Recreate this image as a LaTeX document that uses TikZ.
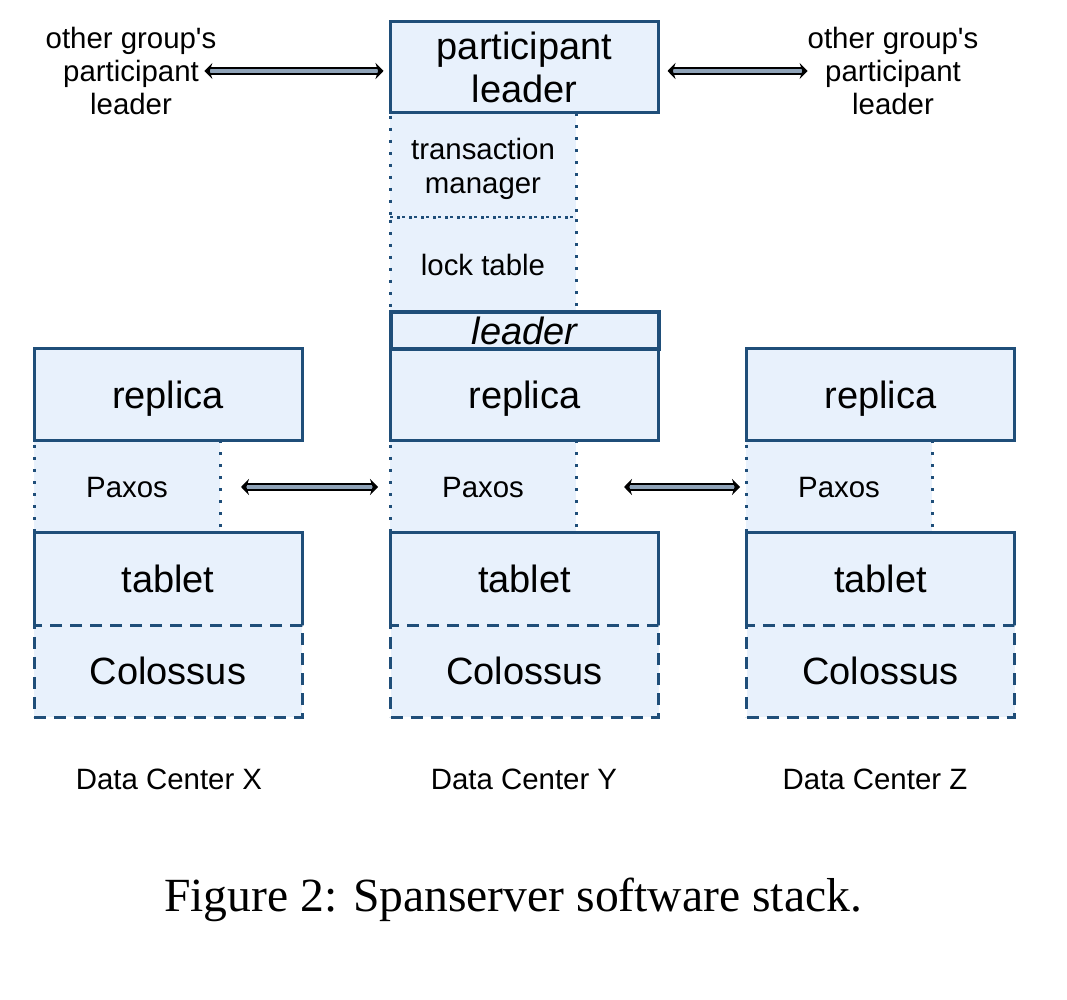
\documentclass[tikz,border=0pt]{standalone}
\usepackage{fontspec}
\setmainfont{Liberation Sans}
\newfontfamily\capfont{Liberation Serif}
\usetikzlibrary{arrows.meta}
\definecolor{boxline}{HTML}{1F4E79}
\definecolor{boxfill}{HTML}{E8F1FC}
\definecolor{arrowfill}{HTML}{8FA3B8}

\begin{document}
\begin{tikzpicture}[yscale=-1, x=0.5pt, y=0.5pt,
    every node/.style={inner sep=0pt, outer sep=0pt},
    bigtext/.style={font=\fontsize{19}{21.5}\selectfont},
    smalltext/.style={font=\fontsize{14.7}{16.5}\selectfont, align=center},
    box/.style={bigtext, draw=boxline, fill=boxfill, line width=1.5pt, minimum width=134pt, minimum height=46pt, text depth=0pt},
    openbox/.style={box, draw=none},
    dotbox/.style={smalltext, draw=boxline, fill=boxfill, line width=1.5pt, dash pattern=on 1.5pt off 4.5pt, minimum width=93pt, minimum height=46pt, text depth=0pt},
    dashbox/.style={box, dash pattern=on 6pt off 4pt},
    rim/.style={draw=boxline, line width=1.5pt},
    link/.style={{Stealth[length=4pt,width=8pt]}-{Stealth[length=4pt,width=8pt]}, line width=1pt, double=arrowfill, double distance=1.8pt}]
    \useasboundingbox (0,0) rectangle (1067,1000);

    % dotted layers first
    \node[dotbox, minimum height=52.5pt, font=\fontsize{14.7}{17}\selectfont] (tm) at (483,165.5) {transaction\\manager};
    \node[dotbox, minimum height=47pt] (lt) at (483,265) {lock table};
    \node[dotbox] (paxX) at (127,487) {Paxos};
    \node[dotbox] (paxY) at (483,487) {Paxos};
    \node[dotbox] (paxZ) at (839,487) {Paxos};

    \node[box, minimum height=45.5pt, align=center] (pl) at (524.5,67.5) {participant\\leader};

    % data center X
    \node[box] (repX) at (168,395) {replica};
    \node[openbox] (tabX) at (168,579) {tablet};
    \draw[rim] (tabX.south west) |- (tabX.north east) -- (tabX.south east);
    \node[dashbox] (colX) at (168,671) {Colossus};

    % data center Y
    \node[box] (repY) at (524.5,395) {replica};
    \node[box, minimum height=18.5pt, line width=2pt, font=\fontsize{19}{21.5}\itshape] (ldr) at (524.5,330.5) {leader};
    \node[openbox] (tabY) at (524.5,579) {tablet};
    \draw[rim] (tabY.south west) |- (tabY.north east) -- (tabY.south east);
    \node[dashbox] (colY) at (524.5,671) {Colossus};

    % data center Z
    \node[box] (repZ) at (880.5,395) {replica};
    \node[openbox] (tabZ) at (880.5,579) {tablet};
    \draw[rim] (tabZ.south west) |- (tabZ.north east) -- (tabZ.south east);
    \node[dashbox] (colZ) at (880.5,671) {Colossus};

    \node[smalltext] (othL) at (131,71) {other group\textquotesingle s\\participant\\leader};
    \node[smalltext] (othR) at (893,71) {other group\textquotesingle s\\participant\\leader};

    \draw[link, shorten <=-6pt, shorten >=3.5pt] (othL.east) -- (othL.east -| pl.west);
    \draw[link, shorten <=4.5pt] (othR.west -| pl.east) -- (othR.west);
    \draw[link, shorten <=10.5pt, shorten >=6pt] (paxX) -- (paxY);
    \draw[link, shorten <=24pt, shorten >=3pt] (paxY) -- (paxZ);

    \node[smalltext] (dcX) at (169,779) {Data Center X};
    \node[smalltext] (dcY) at (524,779) {Data Center Y};
    \node[smalltext] (dcZ) at (875,779) {Data Center Z};

    \node[font=\capfont\fontsize{23.8}{26}\selectfont] (cap) at (513,900) {Figure 2: Spanserver software stack.};
\end{tikzpicture}
\end{document}
